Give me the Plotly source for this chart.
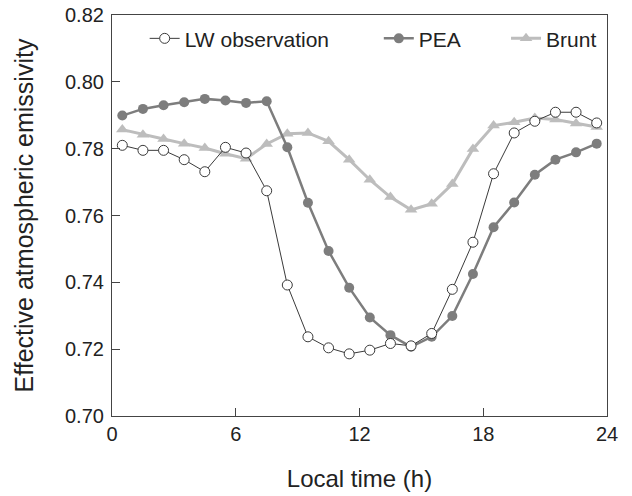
import plotly.graph_objects as go

hours = [0.5 + i for i in range(24)]

lw_obs = [0.7810, 0.7795, 0.7795, 0.7767, 0.7731, 0.7804, 0.7787, 0.7674,
          0.7392, 0.7237, 0.7204, 0.7186, 0.7197, 0.7217, 0.7210, 0.7247,
          0.7379, 0.7520, 0.7725, 0.7847, 0.7882, 0.7909, 0.7909, 0.7877]

pea = [0.7899, 0.7919, 0.7930, 0.7939, 0.7949, 0.7944, 0.7937, 0.7942,
       0.7804, 0.7638, 0.7494, 0.7384, 0.7295, 0.7242, 0.7207, 0.7237,
       0.7299, 0.7425, 0.7565, 0.7639, 0.7722, 0.7767, 0.7789, 0.7815]

brunt = [0.7857, 0.7842, 0.7829, 0.7815, 0.7802, 0.7785, 0.7770, 0.7814,
         0.7845, 0.7847, 0.7822, 0.7767, 0.7707, 0.7655, 0.7617, 0.7635,
         0.7694, 0.7799, 0.7869, 0.7879, 0.7892, 0.7887, 0.7875, 0.7865]

x_ticks = [0, 6, 12, 18, 24]
y_ticks = [0.70, 0.72, 0.74, 0.76, 0.78, 0.80, 0.82]

FONT = "Liberation Sans, Arial, sans-serif"
TXT = "#222222"

fig = go.Figure()
fig.add_trace(go.Scatter(
    x=hours, y=brunt, name="Brunt", mode="lines+markers",
    line=dict(color="#bdbdbd", width=3),
    marker=dict(symbol="triangle-up", size=11, color="#bdbdbd"),
    legend="legend3"))
fig.add_trace(go.Scatter(
    x=hours, y=pea, name="PEA", mode="lines+markers",
    line=dict(color="#7d7d7d", width=2.5),
    marker=dict(symbol="circle", size=10, color="#7d7d7d"),
    legend="legend2"))
fig.add_trace(go.Scatter(
    x=hours, y=lw_obs, name="LW observation", mode="lines+markers",
    line=dict(color="#3a3a3a", width=1),
    marker=dict(symbol="circle", size=10, color="white",
                line=dict(color="#3a3a3a", width=1)),
    legend="legend"))

axis_common = dict(
    showline=True, linecolor="#444444", linewidth=1.2, mirror=True,
    ticks="inside", ticklen=8, tickcolor="#444444", tickwidth=1.2,
    showgrid=False, zeroline=False, automargin=False,
    tickfont=dict(family=FONT, size=20, color=TXT),
)

fig.update_xaxes(range=[0, 24], tickvals=x_ticks, ticktext=[str(v) for v in x_ticks],
                 title=dict(text="Local time (h)", font=dict(size=24, family=FONT, color=TXT), standoff=26),
                 **axis_common)
fig.update_yaxes(range=[0.70, 0.82], tickvals=y_ticks, ticktext=[f"{v:.2f}" for v in y_ticks],
                 ticklabelstandoff=3,
                 title=dict(text="Effective atmospheric emissivity", font=dict(size=25, family=FONT, color=TXT), standoff=24),
                 **axis_common)

leg_common = dict(orientation="h", y=0.992, xanchor="left", yanchor="top",
                  bgcolor="rgba(0,0,0,0)",
                  font=dict(family=FONT, size=21, color=TXT))

fig.update_layout(
    width=632, height=496,
    margin=dict(l=112, r=25, t=15, b=80),
    plot_bgcolor="white", paper_bgcolor="white",
    legend=dict(x=0.066, **leg_common),
    legend2=dict(x=0.539, **leg_common),
    legend3=dict(x=0.796, **leg_common),
    showlegend=True,
)

fig.write_html("out.html")
